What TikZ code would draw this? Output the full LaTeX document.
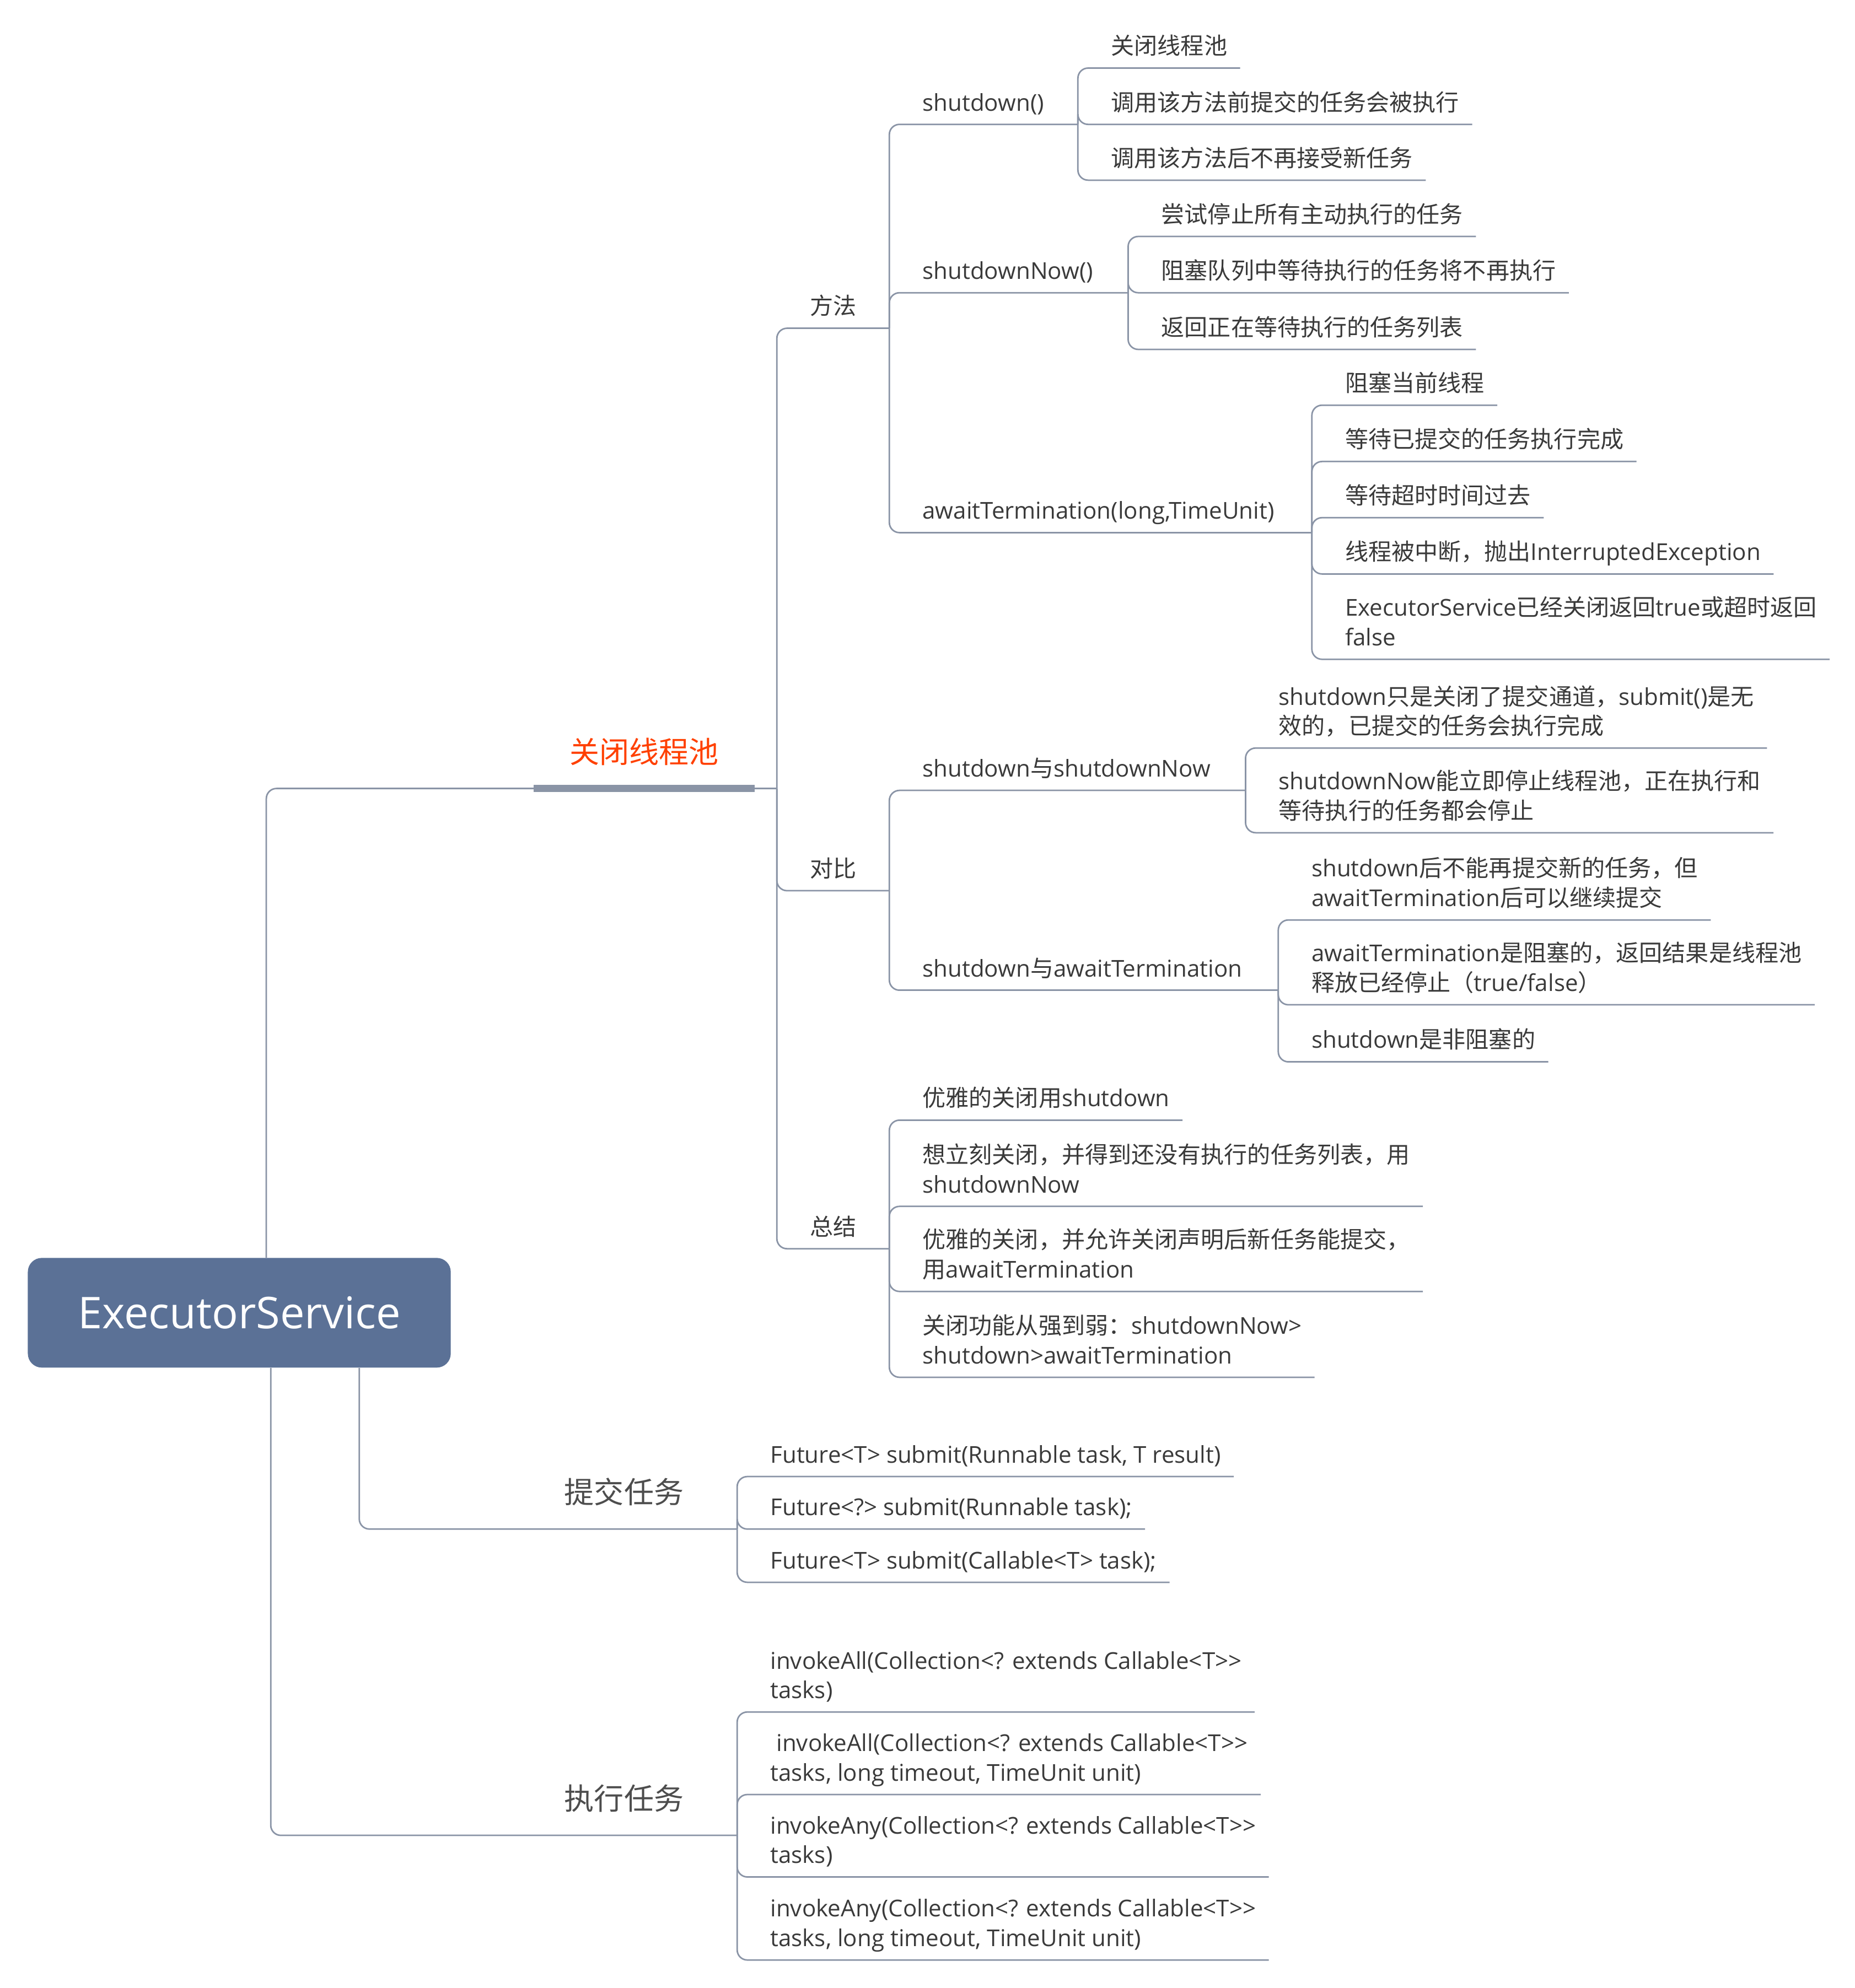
\documentclass[tikz,border=0pt]{standalone}
\usepackage{fontspec}
\setmainfont{Open Sans}
\newfontfamily\cjkfont{Noto Sans CJK SC}
\definecolor{esblue}{HTML}{5B7196}
\definecolor{esline}{HTML}{8A94A6}
\definecolor{esred}{HTML}{FF4000}
\definecolor{estext}{HTML}{3A3A3A}
\definecolor{esbranch}{HTML}{4D4D4D}

% Chinese characters switch to the CJK font
\XeTeXinterchartokenstate=1
\newXeTeXintercharclass\cjkclass
\newcount\cjkchar
\newcommand\setcjkrange[2]{%
  \cjkchar=#1\relax
  \loop
    \XeTeXcharclass\cjkchar=\cjkclass
  \ifnum\cjkchar<#2\relax \advance\cjkchar by 1 \repeat}
\setcjkrange{"3000}{"303F}
\setcjkrange{"4E00}{"9FFF}
\setcjkrange{"FF00}{"FFEF}
\XeTeXinterchartoks 0 \cjkclass = {\cjkfont}
\XeTeXinterchartoks 4095 \cjkclass = {\cjkfont}
\XeTeXinterchartoks \cjkclass 0 = {\rmfamily}
\XeTeXinterchartoks \cjkclass 4095 = {\rmfamily}

\begin{document}
\begin{tikzpicture}[x=1pt, y=-1pt,
  every node/.style={text=estext},
  topic/.style={anchor=south west, xshift=16pt, inner xsep=10pt, inner ysep=10.5pt, text depth=0pt, align=left, font=\fontsize{18.3}{23.3}\selectfont},
  branch/.style={anchor=south, inner xsep=0pt, inner ysep=20pt, text depth=0pt, text=esbranch, font=\fontsize{23.5}{28}\selectfont},
  link/.style={draw=esline, line width=1.2pt, rounded corners=8pt},
  rootbox/.style={rectangle, rounded corners=11pt, fill=esblue, text=white, minimum width=333.5pt, minimum height=86.5pt, font=\fontsize{34.5}{40}\selectfont},
]
\useasboundingbox (0,0) rectangle (1462.6,1568);

\node[rootbox] (root) at (188.7,1035.4) {ExecutorService};

% Branch labels
\node[branch, text=esred, minimum width=174pt] (close) at (508,621.9) {关闭线程池};
\node[branch] (submit) at (492.1,1206) {提交任务};
\node[branch] (invoke) at (492.1,1447.6) {执行任务};

\coordinate (closehub) at (612.6,621.9);
\coordinate (submithub) at (581.3,1206);
\coordinate (invokehub) at (581.3,1447.6);

\draw[link] ([xshift=21.3pt]root.north) |- (closehub);
\draw[esline, line width=5.4pt] (close.south west) -- (close.south east);
\draw[link] ([xshift=94.6pt]root.south) |- (submithub);
\draw[link] ([xshift=24.8pt]root.south) |- (invokehub);

% Second level
\node[topic] (fangfa) at (612.6,258.9) {方法};
\node[topic] (duibi) at (612.6,702.5) {对比};
\node[topic] (zongjie) at (612.6,984.9) {总结};
\coordinate (fangfahub) at (701.3,258.9);
\coordinate (duibihub) at (701.3,702.5);
\coordinate (zongjiehub) at (701.3,984.9);

% Methods
\node[topic] (sd) at (701.3,98.1) {shutdown()};
\node[topic] (sdn) at (701.3,230.9) {shutdownNow()};
\node[topic] (aw) at (701.3,420.1) {awaitTermination(long,TimeUnit)};
\coordinate (sdhub) at (850,98.1);
\coordinate (sdnhub) at (889.6,230.9);
\coordinate (awhub) at (1034.5,420.1);

\node[topic] (sd1) at (850,53.7) {关闭线程池};
\node[topic] (sd2) at (850,98.1) {调用该方法前提交的任务会被执行};
\node[topic] (sd3) at (850,142.1) {调用该方法后不再接受新任务};

\node[topic] (sdn1) at (889.6,186.5) {尝试停止所有主动执行的任务};
\node[topic] (sdn2) at (889.6,230.9) {阻塞队列中等待执行的任务将不再执行};
\node[topic] (sdn3) at (889.6,275.6) {返回正在等待执行的任务列表};

\node[topic] (aw1) at (1034.5,319.6) {阻塞当前线程};
\node[topic] (aw2) at (1034.5,364) {等待已提交的任务执行完成};
\node[topic] (aw3) at (1034.5,408.3) {等待超时时间过去};
\node[topic] (aw4) at (1034.5,452.7) {线程被中断，抛出InterruptedException};
\node[topic] (aw5) at (1034.5,520) {ExecutorService已经关闭返回true或超时返回\\false};

% Comparison
\node[topic] (vsnow) at (701.3,623.4) {shutdown与shutdownNow};
\node[topic] (vsawait) at (701.3,781) {shutdown与awaitTermination};
\coordinate (vsnowhub) at (982.2,623.4);
\coordinate (vsawaithub) at (1008,781);

\node[topic] (vsnow1) at (982.2,590) {shutdown只是关闭了提交通道，submit()是无\\效的，已提交的任务会执行完成};
\node[topic] (vsnow2) at (982.2,656.8) {shutdownNow能立即停止线程池，正在执行和\\等待执行的任务都会停止};

\node[topic] (vsawait1) at (1008,725.6) {shutdown后不能再提交新的任务，但\\awaitTermination后可以继续提交};
\node[topic] (vsawait2) at (1008,792.5) {awaitTermination是阻塞的，返回结果是线程池\\释放已经停止（true/false）};
\node[topic] (vsawait3) at (1008,837.5) {shutdown是非阻塞的};

% Summary
\node[topic] (zj1) at (701.3,883.5) {优雅的关闭用shutdown};
\node[topic] (zj2) at (701.3,951.5) {想立刻关闭，并得到还没有执行的任务列表，用\\shutdownNow};
\node[topic] (zj3) at (701.3,1018.6) {优雅的关闭，并允许关闭声明后新任务能提交，\\用awaitTermination};
\node[topic] (zj4) at (701.3,1086.3) {关闭功能从强到弱：shutdownNow>\\shutdown>awaitTermination};

% Submit
\node[topic] (sub1) at (581.3,1164.6) {Future<T> submit(Runnable task, T result)};
\node[topic] (sub2) at (581.3,1206) {Future<?> submit(Runnable task);};
\node[topic] (sub3) at (581.3,1248) {Future<T> submit(Callable<T> task);};

% Invoke
\node[topic] (inv1) at (581.3,1350.3) {invokeAll(Collection<? extends Callable<T>{}>\\tasks)};
\node[topic] (inv2) at (581.3,1415.4) {\ invokeAll(Collection<? extends Callable<T>{}>\\tasks, long timeout, TimeUnit unit)};
\node[topic] (inv3) at (581.3,1480.4) {invokeAny(Collection<? extends Callable<T>{}>\\tasks)};
\node[topic] (inv4) at (581.3,1545.9) {invokeAny(Collection<? extends Callable<T>{}>\\tasks, long timeout, TimeUnit unit)};

% Connectors
\foreach \h in {fangfahub, duibihub, zongjiehub}
  \draw[link] (closehub) |- (\h);
\foreach \h in {sdhub, sdnhub, awhub}
  \draw[link] (fangfahub) |- (\h);
\foreach \h in {vsnowhub, vsawaithub}
  \draw[link] (duibihub) |- (\h);
\foreach \p/\c in {sdhub/sd1, sdhub/sd2, sdhub/sd3,
    sdnhub/sdn1, sdnhub/sdn2, sdnhub/sdn3,
    awhub/aw1, awhub/aw2, awhub/aw3, awhub/aw4, awhub/aw5,
    vsnowhub/vsnow1, vsnowhub/vsnow2,
    vsawaithub/vsawait1, vsawaithub/vsawait2, vsawaithub/vsawait3,
    zongjiehub/zj1, zongjiehub/zj2, zongjiehub/zj3, zongjiehub/zj4,
    submithub/sub1, submithub/sub2, submithub/sub3,
    invokehub/inv1, invokehub/inv2, invokehub/inv3, invokehub/inv4}
  \draw[link] (\p) |- (\c.south east);

\end{tikzpicture}
\end{document}
